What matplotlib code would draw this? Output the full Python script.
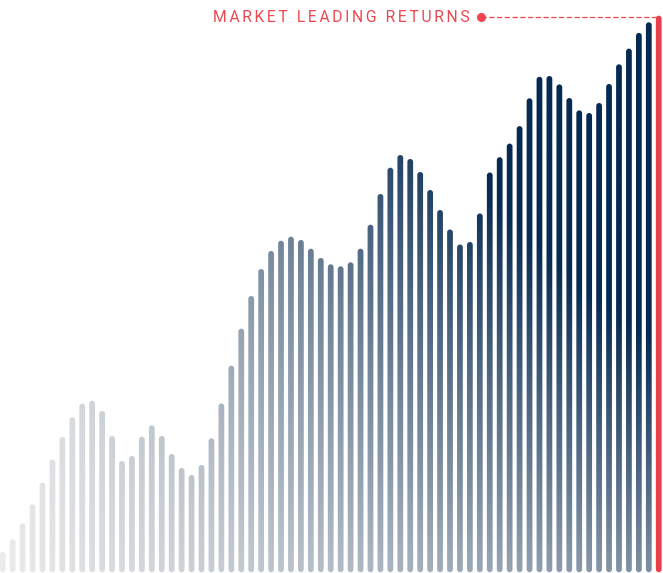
import numpy as np
import matplotlib
matplotlib.use("Agg")
import matplotlib.pyplot as plt
from matplotlib.patches import FancyBboxPatch, PathPatch
from matplotlib.path import Path
from matplotlib.colors import LinearSegmentedColormap

# ---- data: index level of each period (last one highlighted) ----
values = [21, 33.7, 49.7, 68.7, 90.3, 113.7, 136, 155.7, 169.3, 172.3,
          162, 137, 112, 117, 136.3, 147.7, 137, 119, 105, 98,
          108, 134.7, 169.5, 207.3, 244.3, 277, 304, 322, 332.3, 336.3,
          333, 324.3, 315, 308.7, 306.7, 310.7, 324.3, 348.3, 379, 405.3,
          418, 414, 401, 383, 363, 343.5, 328.5, 331, 359.5, 400.5,
          415.8, 429.4, 446.9, 474.7, 496.2, 497, 488.6, 475, 462.6, 460,
          470, 489, 508.7, 524.4, 540.1, 550.7, 557.3]
periods = list(range(len(values)))
label_text = "MARKET LEADING RETURNS"

W, H, DPI = 663, 573, 100
fig = plt.figure(figsize=(W / DPI, H / DPI), dpi=DPI)
ax = fig.add_axes([0, 0, 1, 1])
ax.set_axis_off()

n = len(values)
step_px = 9.94
x0 = -2.7 / step_px
ax.set_xlim(x0, x0 + W / step_px)
ax.set_ylim(0, 573)

bar_w = 0.58
red = "#e8414b"
text_red = "#ef4752"

# pixel aspect so the rounded caps are circular
fig.canvas.draw()
px_per_x = ax.transData.transform((1, 0))[0] - ax.transData.transform((0, 0))[0]
px_per_y = ax.transData.transform((0, 1))[1] - ax.transData.transform((0, 0))[1]
aspect = px_per_x / px_per_y

paths = []
for i, v in zip(periods, values):
    bottom = 0.8
    patch = FancyBboxPatch((i - bar_w / 2, bottom), bar_w, v - bottom,
                           boxstyle=f"round,pad=0,rounding_size={bar_w / 2}",
                           mutation_aspect=aspect, linewidth=0)
    if i == n - 1:
        patch.set_facecolor(red)
        ax.add_patch(patch)
    else:
        paths.append(patch.get_path())

# gradient (light grey bottom-left -> navy top-right)
cmap = LinearSegmentedColormap.from_list("g", ["#ebebeb", "#062a52"])
gx, gy = np.meshgrid(np.linspace(0, 1, 400), np.linspace(0, 1, 400))
t = np.clip(gx * (0.48 + 1.3 * gy), 0, 1)
compound = Path.make_compound_path(*paths)
clip = PathPatch(compound, transform=ax.transData, facecolor="none", edgecolor="none")
ax.add_patch(clip)
im = ax.imshow(t, cmap=cmap, vmin=0, vmax=1, origin="lower",
               extent=[0, 1, 0, 1], transform=ax.transAxes,
               aspect="auto", interpolation="bilinear", zorder=1)
im.set_clip_path(clip)

# annotation for the last bar
last_i, last_v = periods[-1], values[-1]
dot_x = x0 + (481 / step_px)
line_y = last_v - 1.3
ax.plot([dot_x, last_i], [line_y, line_y], color=text_red, lw=0.9,
        dashes=(4.2, 2.0), solid_capstyle="butt", zorder=3)
ax.plot([dot_x], [line_y], marker="o", ms=6.5, color=text_red, mec="none", zorder=4)
spaced = "\u2006".join(label_text)
ax.annotate(spaced, xy=(dot_x, line_y), xytext=(-11, -1), textcoords="offset pixels",
            ha="right", va="center", color=text_red, fontsize=11.35,
            family=["Roboto", "DejaVu Sans"], zorder=4)

fig.savefig("out.png", dpi=DPI)
